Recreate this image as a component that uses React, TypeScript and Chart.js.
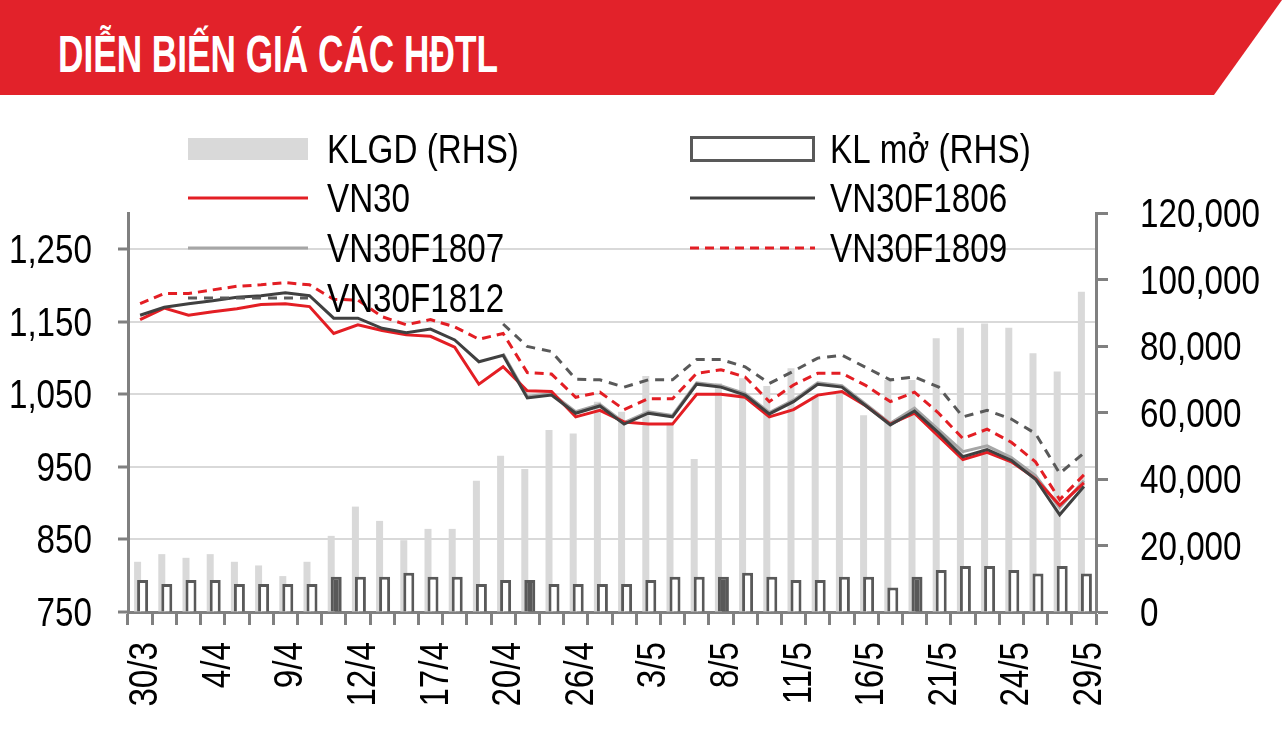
import React, { useEffect, useRef } from 'react';
import { Chart, registerables } from 'chart.js';

Chart.register(...registerables);

const DATES = [
  '30/3', '2/4', '3/4', '4/4', '5/4', '6/4', '9/4', '10/4', '11/4', '12/4',
  '13/4', '16/4', '17/4', '18/4', '19/4', '20/4', '23/4', '24/4', '26/4', '27/4',
  '2/5', '3/5', '4/5', '7/5', '8/5', '9/5', '10/5', '11/5', '14/5', '15/5',
  '16/5', '17/5', '18/5', '21/5', '22/5', '23/5', '24/5', '25/5', '28/5', '29/5',
];

const LEFT_TICKS = [750, 850, 950, 1050, 1150, 1250];
const RIGHT_TICKS = [0, 20000, 40000, 60000, 80000, 100000, 120000];

const KLGD = [
  15100, 17400, 16300, 17400, 15100, 14000, 10800, 15100, 22900, 31700,
  27400, 21600, 25000, 25000, 39500, 47000, 43000, 54700, 53700, 63200,
  60200, 71000, 57000, 46000, 68800, 70300, 68000, 73300, 64800, 66300,
  59200, 69800, 69800, 82300, 85500, 86800, 85500, 77800, 72300, 96300,
];

const KL_MO = [
  9600, 8400, 9600, 9600, 8400, 8400, 8400, 8400, 10600, 10600,
  10600, 11800, 10600, 10600, 8400, 9600, 9600, 8400, 8400, 8400,
  8400, 9600, 10600, 10600, 10600, 11800, 10600, 9600, 9600, 10600,
  10600, 7400, 10600, 12600, 13800, 13800, 12600, 11600, 13800, 11600,
];

const VN30 = [
  1153, 1169, 1159, 1164, 1168, 1174, 1175, 1171, 1134, 1146,
  1138, 1132, 1130, 1115, 1064, 1088, 1055, 1054, 1019, 1028,
  1012, 1009, 1009, 1050, 1050, 1046, 1019, 1029, 1049, 1054,
  1034, 1009, 1024, 992, 960, 970, 957, 934, 897, 928,
];

const VN30F1806 = [
  1159, 1170, 1175, 1179, 1184, 1186, 1190, 1186, 1155, 1155,
  1141, 1135, 1140, 1125, 1095, 1104, 1045, 1049, 1024, 1034,
  1009, 1024, 1019, 1064, 1060, 1049, 1023, 1040, 1064, 1060,
  1034, 1008, 1027, 997, 964, 974, 959, 933, 884, 923,
];

const VN30F1807 = [
  null, null, null, null, null, null, null, null, null, null,
  null, null, null, null, null, 1106, 1047, 1051, 1026, 1036,
  1011, 1026, 1021, 1066, 1062, 1051, 1025, 1042, 1066, 1062,
  1036, 1010, 1031, 1001, 971, 979, 963, 938, 894, 931,
];

const VN30F1809 = [
  1175, 1189, 1189, 1194, 1199, 1201, 1204, 1201, 1181, 1180,
  1157, 1146, 1153, 1143, 1126, 1134, 1080, 1078, 1046, 1053,
  1029, 1044, 1044, 1079, 1084, 1074, 1040, 1063, 1079, 1079,
  1062, 1040, 1053, 1024, 989, 1002, 984, 957, 905, 939,
];

const VN30F1812 = [
  null, null, null, null, null, null, null, null, null, null,
  null, null, null, null, null, 1147, 1116, 1109, 1071, 1070,
  1060, 1070, 1070, 1098, 1098, 1088, 1065, 1082, 1100, 1104,
  1087, 1070, 1074, 1060, 1019, 1028, 1016, 996, 941, 969,
];

// bars of KL mở that appear solid in the reference picture
const KL_MO_SOLID = [8, 16, 24, 32];

const FAMILY = "'Liberation Sans', Arial, Helvetica, sans-serif";
const TXT_FONT = `40px ${FAMILY}`;
const SX = 0.83; // horizontal compression -> narrow face
const RED = '#e31e24';
const AX = '#808080';
const HOLLOW = '#595959';

const fmt = (v: number) => Number(v).toLocaleString('en-US');

function drawNarrow(ctx: CanvasRenderingContext2D, text: string, x: number, y: number, align: CanvasTextAlign, rotate = false, dy = 0) {
  ctx.save();
  ctx.translate(x, y);
  if (rotate) ctx.rotate(-Math.PI / 2);
  ctx.scale(SX, 1);
  ctx.textAlign = align;
  ctx.textBaseline = 'alphabetic';
  ctx.fillText(text, 0, dy);
  ctx.restore();
}

const barOrderPlugin = {
  id: 'barOrder',
  beforeDatasetDraw(chart: any, args: any) {
    if (args.index === 1) return false;
    return true;
  },
  afterDatasetDraw(chart: any, args: any) {
    if (args.index === 0) {
      const meta = chart.getDatasetMeta(1);
      if (meta && meta.controller) meta.controller.draw();
    }
  },
};

const axisLabelPlugin = {
  id: 'axisLabels',
  afterDraw(chart: any) {
    const ctx = chart.ctx;
    const { x, y, y1 } = chart.scales;
    ctx.save();
    ctx.font = TXT_FONT;
    ctx.fillStyle = '#000000';
    y.ticks.forEach((t: any) => {
      drawNarrow(ctx, fmt(t.value), y.right - 36, y.getPixelForValue(t.value) + 14, 'right');
    });
    y1.ticks.forEach((t: any) => {
      drawNarrow(ctx, fmt(t.value), y1.left + 44, y1.getPixelForValue(t.value) + 14, 'left');
    });
    const labels = chart.data.labels;
    x.ticks.forEach((_t: any, i: number) => {
      if (i % 3 !== 0) return;
      drawNarrow(ctx, String(labels[i]), x.getPixelForTick(i), x.top + 30, 'right', true, 17);
    });
    ctx.restore();
  },
};

const legendPlugin = {
  id: 'customLegend',
  afterDraw(chart: any) {
    const ctx = chart.ctx;
    const ds = chart.data.datasets;
    const cols = [
      { x0: 188, x1: 308, tx: 327 },
      { x0: 690, x1: 815, tx: 830 },
    ];
    const rows = [149, 198, 248, 298];
    ctx.save();
    ds.forEach((d: any, i: number) => {
      const col = cols[i % 2];
      const cy = rows[Math.floor(i / 2)];
      ctx.setLineDash([]);
      if (i === 0) {
        ctx.fillStyle = d.backgroundColor;
        ctx.fillRect(col.x0, cy - 11, col.x1 - col.x0, 22);
      } else if (i === 1) {
        ctx.fillStyle = '#ffffff';
        ctx.fillRect(col.x0, cy - 11, col.x1 - col.x0, 22);
        ctx.strokeStyle = HOLLOW;
        ctx.lineWidth = 3;
        ctx.strokeRect(col.x0 + 1.5, cy - 11.5, col.x1 - col.x0 - 3, 23);
      } else {
        ctx.strokeStyle = d.borderColor;
        ctx.lineWidth = 3;
        ctx.setLineDash(d.borderDash || []);
        ctx.beginPath();
        ctx.moveTo(col.x0, cy);
        ctx.lineTo(col.x1, cy);
        ctx.stroke();
      }
      ctx.setLineDash([]);
      ctx.fillStyle = '#000000';
      ctx.font = TXT_FONT;
      drawNarrow(ctx, d.label, col.tx, cy + 14, 'left');
    });
    ctx.restore();
  },
};

export default function App() {
  const ref = useRef<HTMLCanvasElement | null>(null);

  useEffect(() => {
    if (!ref.current) return;
    const chart = new Chart(ref.current, {
      type: 'bar',
      data: {
        labels: DATES,
        datasets: [
          {
            type: 'bar',
            label: 'KLGD (RHS)',
            data: KLGD,
            yAxisID: 'y1',
            backgroundColor: '#d9d9d9',
            borderWidth: 0,
            categoryPercentage: 0.4136,
            barPercentage: 1.4,
            order: 10,
          },
          {
            type: 'bar',
            label: 'KL mở (RHS)',
            data: KL_MO,
            yAxisID: 'y1',
            backgroundColor: (c: any) => (KL_MO_SOLID.includes(c.dataIndex) ? HOLLOW : '#ffffff'),
            borderColor: HOLLOW,
            borderWidth: 3,
            categoryPercentage: 0.4136,
            barPercentage: 2.2,
            order: 10,
          },
          {
            type: 'line',
            label: 'VN30',
            data: VN30,
            yAxisID: 'y',
            borderColor: RED,
            borderWidth: 3,
            pointRadius: 0,
            tension: 0,
            order: 1,
          },
          {
            type: 'line',
            label: 'VN30F1806',
            data: VN30F1806,
            yAxisID: 'y',
            borderColor: '#404040',
            borderWidth: 3,
            pointRadius: 0,
            tension: 0,
            order: 0,
          },
          {
            type: 'line',
            label: 'VN30F1807',
            data: VN30F1807,
            yAxisID: 'y',
            borderColor: '#a6a6a6',
            borderWidth: 3,
            pointRadius: 0,
            tension: 0,
            order: 2,
          },
          {
            type: 'line',
            label: 'VN30F1809',
            data: VN30F1809,
            yAxisID: 'y',
            borderColor: RED,
            borderWidth: 3,
            borderDash: [9, 6],
            pointRadius: 0,
            tension: 0,
            order: 3,
          },
          {
            type: 'line',
            label: 'VN30F1812',
            data: VN30F1812,
            yAxisID: 'y',
            borderColor: '#595959',
            borderWidth: 3,
            borderDash: [9, 7],
            pointRadius: 0,
            tension: 0,
            order: 4,
          },
        ] as any,
      },
      options: {
        responsive: false,
        animation: false,
        layout: { padding: { top: 213, left: 0, right: 0, bottom: 0 } },
        plugins: {
          legend: { display: false },
          tooltip: { enabled: false },
        },
        scales: {
          x: {
            type: 'category',
            offset: true,
            grid: {
              display: true,
              offset: true,
              drawOnChartArea: false,
              drawTicks: true,
              tickLength: 13,
              tickWidth: 3,
              tickColor: AX,
            },
            border: { display: true, color: AX, width: 3 },
            ticks: { display: false, autoSkip: false },
            afterFit: (s: any) => {
              s.height = 124;
            },
          },
          y: {
            position: 'left',
            min: 750,
            max: 1300,
            afterBuildTicks: (s: any) => {
              s.ticks = LEFT_TICKS.map((v) => ({ value: v }));
            },
            grid: {
              color: '#d9d9d9',
              lineWidth: 2,
              tickColor: AX,
              tickWidth: 3,
              tickLength: 10,
            },
            border: { display: true, color: AX, width: 3 },
            ticks: { display: false },
            afterFit: (s: any) => {
              s.width = 128;
            },
          },
          y1: {
            position: 'right',
            min: 0,
            max: 120000,
            afterBuildTicks: (s: any) => {
              s.ticks = RIGHT_TICKS.map((v) => ({ value: v }));
            },
            grid: {
              drawOnChartArea: false,
              tickColor: AX,
              tickWidth: 3,
              tickLength: 12,
            },
            border: { display: true, color: AX, width: 3 },
            ticks: { display: false },
            afterFit: (s: any) => {
              s.width = 186;
            },
          },
        },
      } as any,
      plugins: [barOrderPlugin, axisLabelPlugin, legendPlugin] as any,
    });
    return () => chart.destroy();
  }, []);

  return (
    <div
      style={{
        position: 'absolute',
        left: 0,
        top: 0,
        width: 1282,
        height: 736,
        overflow: 'hidden',
        background: '#ffffff',
      }}
    >
      <canvas ref={ref} width={1282} height={736} style={{ position: 'absolute', left: 0, top: 0 }} />
      <div
        style={{
          position: 'absolute',
          left: 0,
          top: 0,
          width: 1282,
          height: 95,
          background: '#e2222a',
          clipPath: 'polygon(0 0, 1282px 0, 1214px 95px, 0 95px)',
        }}
      >
        <span
          style={{
            position: 'absolute',
            left: 58,
            top: 29,
            fontFamily: FAMILY,
            fontWeight: 700,
            fontSize: 51,
            lineHeight: '51px',
            color: '#ffffff',
            whiteSpace: 'nowrap',
            transform: 'scaleX(0.69)',
            transformOrigin: 'left center',
          }}
        >
          DIỄN BIẾN GIÁ CÁC HĐTL
        </span>
      </div>
    </div>
  );
}
